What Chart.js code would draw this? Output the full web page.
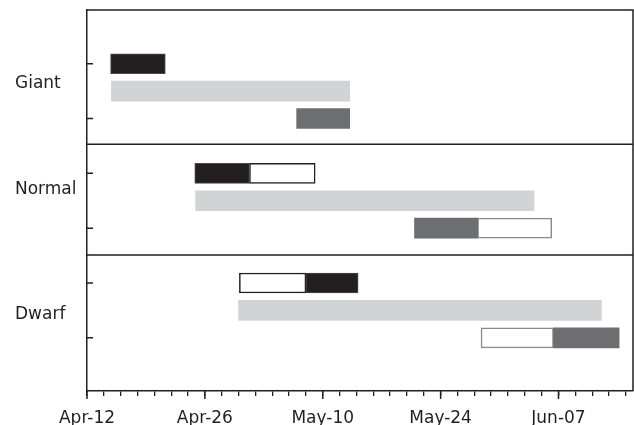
<!DOCTYPE html>
<html>
<head>
<meta charset="utf-8">
<script src="https://cdn.jsdelivr.net/npm/chart.js@4/dist/chart.umd.min.js"></script>
<style>
  html, body { margin: 0; padding: 0; background: #fff; }
  #wrap { width: 634px; height: 425px; }
</style>
</head>
<body>
<div id="wrap"><canvas id="myChart"></canvas></div>
<script>
// groups and where their names sit on the row axis
var groups = ['Giant', 'Normal', 'Dwarf'];
var groupLabelRows = [1.36, 3.29, 5.58];
var rowTicks = [1, 2, 3, 4, 5, 6];
var separators = [2.47, 4.49];

// x axis: days after Apr-12, labelled every 14 days
var dateLabels = ['Apr-12', 'Apr-26', 'May-10', 'May-24', 'Jun-07'];

// bar spans, [start day, end day]
var blackRows = [1, 3, 5];
var blackSpans = [[2.8, 9.3], [12.8, 19.3], [26.0, 32.2]];

var openBlackRows = [3, 5];
var openBlackSpans = [[19.3, 27.1], [18.1, 26.0]];

var lightRows = [1.5, 3.5, 5.5];
var lightSpans = [[2.9, 31.2], [12.9, 53.1], [18.0, 61.1]];

var darkRows = [2, 4, 6];
var darkSpans = [[24.9, 31.2], [38.9, 46.4], [55.4, 63.2]];

var openGrayRows = [4, 6];
var openGraySpans = [[46.4, 55.2], [46.8, 55.4]];

function points(rows, spans) {
    return rows.map(function(r, i) { return { x: spans[i], y: r }; });
}

var ink = '#231f20';

var frame = {
    id: 'frame',
    afterDraw: function(chart) {
        var ctx = chart.ctx, a = chart.chartArea;
        var x = chart.scales.x, y = chart.scales.y;
        ctx.save();
        ctx.strokeStyle = ink;
        ctx.lineWidth = 1.5;
        ctx.beginPath();
        ctx.moveTo(a.left, a.top);
        ctx.lineTo(a.right, a.top);
        ctx.lineTo(a.right, a.bottom);
        separators.forEach(function(v) {
            var py = y.getPixelForValue(v);
            ctx.moveTo(a.left, py);
            ctx.lineTo(a.right, py);
        });
        rowTicks.forEach(function(v) {
            var py = y.getPixelForValue(v);
            ctx.moveTo(a.left, py);
            ctx.lineTo(a.left + 6, py);
        });
        x.ticks.forEach(function(t) {
            if (t.value % 14 === 0) {
                var px = x.getPixelForValue(t.value);
                ctx.moveTo(px, a.bottom);
                ctx.lineTo(px, a.bottom + 8);
            }
        });
        ctx.stroke();
        ctx.restore();
    }
};

var ctx = document.getElementById('myChart');
var ganttChart = new Chart(ctx, {
    type: 'bar',
    data: {
        datasets: [
            {
                data: points(lightRows, lightSpans),
                backgroundColor: '#d1d3d4',
                borderWidth: 0
            },
            {
                data: points(blackRows, blackSpans),
                backgroundColor: ink,
                borderColor: '#4a4a4a',
                borderWidth: 1
            },
            {
                data: points(openBlackRows, openBlackSpans),
                backgroundColor: '#ffffff',
                borderColor: ink,
                borderWidth: 1.5
            },
            {
                data: points(darkRows, darkSpans),
                backgroundColor: '#6d6e71',
                borderWidth: 0
            },
            {
                data: points(openGrayRows, openGraySpans),
                backgroundColor: '#ffffff',
                borderColor: '#8a8a8a',
                borderWidth: 1.5
            }
        ]
    },
    options: {
        indexAxis: 'y',
        responsive: true,
        maintainAspectRatio: false,
        animation: false,
        layout: { padding: { left: 15, top: 10, right: 1, bottom: 0 } },
        datasets: {
            bar: { grouped: false, barThickness: 20, borderSkipped: false }
        },
        plugins: {
            legend: { display: false },
            tooltip: { enabled: false }
        },
        scales: {
            x: {
                type: 'linear',
                offset: false,
                min: 0,
                max: 64.85,
                afterBuildTicks: function(scale) {
                    var t = [];
                    for (var d = 0; d <= 64; d += 2) t.push({ value: d });
                    scale.ticks = t;
                },
                afterFit: function(scale) {
                    scale.height = 34;
                    scale.paddingLeft = 0;
                    scale.paddingRight = 0;
                },
                grid: {
                    drawOnChartArea: false,
                    drawTicks: true,
                    tickLength: 5,
                    color: ink,
                    lineWidth: 1.3
                },
                border: { display: true, color: ink, width: 1.5 },
                ticks: {
                    autoSkip: false,
                    maxRotation: 0,
                    padding: 12,
                    color: ink,
                    font: { family: 'DejaVu Sans', size: 17 },
                    callback: function(v) {
                        return v % 14 === 0 ? dateLabels[v / 14] : '';
                    }
                }
            },
            y: {
                type: 'linear',
                offset: false,
                reverse: true,
                min: 0.02,
                max: 6.97,
                afterBuildTicks: function(scale) {
                    scale.ticks = groupLabelRows.map(function(v) { return { value: v }; });
                },
                afterFit: function(scale) {
                    scale.width = 72;
                    scale.paddingTop = 0;
                    scale.paddingBottom = 0;
                },
                grid: { display: false, drawTicks: false },
                border: { display: true, color: ink, width: 1.5 },
                ticks: {
                    crossAlign: 'far',
                    padding: 10,
                    color: ink,
                    font: { family: 'DejaVu Sans', size: 17 },
                    callback: function(v, i) { return groups[i]; }
                }
            }
        }
    },
    plugins: [frame]
});
</script>
</body>
</html>
